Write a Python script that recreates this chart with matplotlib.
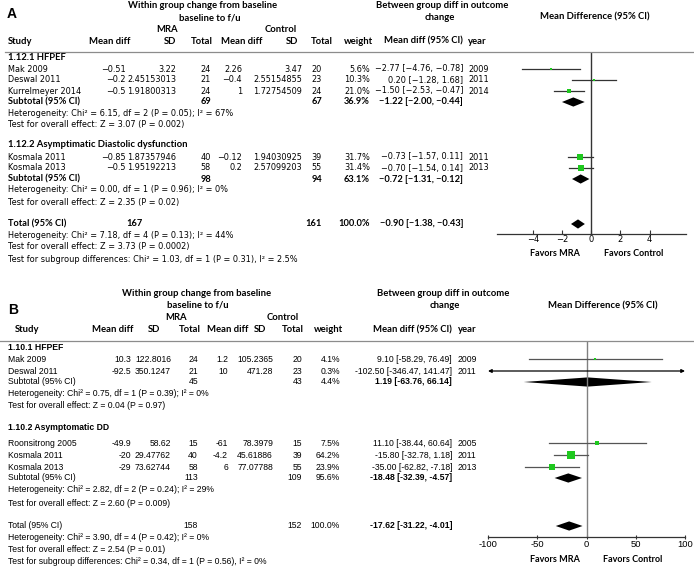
import matplotlib
matplotlib.use("Agg")
import matplotlib.pyplot as plt
from matplotlib.patches import Polygon

W, H = 694, 568

# ---------------- panel A data ----------------
a_studies = ["Mak 2009", "Deswal 2011", "Kurrelmeyer 2014", "Kosmala 2011", "Kosmala 2013"]
a_mra_md = [-0.51, -0.2, -0.5, -0.85, -0.5]
a_mra_sd = [3.22, 2.45153013, 1.91800313, 1.87357946, 1.95192213]
a_mra_n = [24, 21, 24, 40, 58]
a_ctl_md = [2.26, -0.4, 1, -0.12, 0.2]
a_ctl_sd = [3.47, 2.55154855, 1.72754509, 1.94030925, 2.57099203]
a_ctl_n = [20, 23, 24, 39, 55]
a_weight = [5.6, 10.3, 21.0, 31.7, 31.4]
a_est = [-2.77, 0.20, -1.50, -0.73, -0.70]
a_lo = [-4.76, -1.28, -2.53, -1.57, -1.54]
a_hi = [-0.78, 1.68, -0.47, 0.11, 0.14]
a_year = [2009, 2011, 2014, 2011, 2013]
a_groups = ["1.12.1 HFPEF", "1.12.2 Asymptimatic Diastolic dysfunction"]
a_sub_n = [(69, 67), (98, 94)]
a_sub_w = [36.9, 63.1]
a_sub_est = [-1.22, -0.72]
a_sub_lo = [-2.00, -1.31]
a_sub_hi = [-0.44, -0.12]
a_tot_n = (167, 161)
a_tot = (-0.90, -1.38, -0.43)
a_het = [["Heterogeneity: Chi² = 6.15, df = 2 (P = 0.05); I² = 67%",
          "Test for overall effect: Z = 3.07 (P = 0.002)"],
         ["Heterogeneity: Chi² = 0.00, df = 1 (P = 0.96); I² = 0%",
          "Test for overall effect: Z = 2.35 (P = 0.02)"]]
a_tot_txt = ["Heterogeneity: Chi² = 7.18, df = 4 (P = 0.13); I² = 44%",
             "Test for overall effect: Z = 3.73 (P = 0.0002)",
             "Test for subgroup differences: Chi² = 1.03, df = 1 (P = 0.31), I² = 2.5%"]
a_ticks = [-4, -2, 0, 2, 4]

# ---------------- panel B data ----------------
b_studies = ["Mak 2009", "Deswal 2011", "Roonsitrong 2005", "Kosmala 2011", "Kosmala 2013"]
b_mra_md = [10.3, -92.5, -49.9, -20, -29]
b_mra_sd = [122.8016, 350.1247, 58.62, 29.47762, 73.62744]
b_mra_n = [24, 21, 15, 40, 58]
b_ctl_md = [1.2, 10, -61, -4.2, 6]
b_ctl_sd = [105.2365, 471.28, 78.3979, 45.61886, 77.07788]
b_ctl_n = [20, 23, 15, 39, 55]
b_weight = [4.1, 0.3, 7.5, 64.2, 23.9]
b_est = [9.10, -102.50, 11.10, -15.80, -35.00]
b_lo = [-58.29, -346.47, -38.44, -32.78, -62.82]
b_hi = [76.49, 141.47, 60.64, 1.18, -7.18]
b_year = [2009, 2011, 2005, 2011, 2013]
b_groups = ["1.10.1 HFPEF", "1.10.2 Asymptomatic DD"]
b_sub_n = [(45, 43), (113, 109)]
b_sub_w = [4.4, 95.6]
b_sub_est = [1.19, -18.48]
b_sub_lo = [-63.76, -32.39]
b_sub_hi = [66.14, -4.57]
b_tot_n = (158, 152)
b_tot = (-17.62, -31.22, -4.01)
b_het = [["Heterogeneity: Chi² = 0.75, df = 1 (P = 0.39); I² = 0%",
          "Test for overall effect: Z = 0.04 (P = 0.97)"],
         ["Heterogeneity: Chi² = 2.82, df = 2 (P = 0.24); I² = 29%",
          "Test for overall effect: Z = 2.60 (P = 0.009)"]]
b_tot_txt = ["Heterogeneity: Chi² = 3.90, df = 4 (P = 0.42); I² = 0%",
             "Test for overall effect: Z = 2.54 (P = 0.01)",
             "Test for subgroup differences: Chi² = 0.34, df = 1 (P = 0.56), I² = 0%"]
b_ticks = [-100, -50, 0, 50, 100]

GREEN = "#1ec81e"
HEAD = ["Lato"]

fig = plt.figure(figsize=(W / 100, H / 100), dpi=100)


def t(x, y, s, ha="left", **kw):
    fig.text(x / W, 1 - y / H, s, ha=ha, va="center", **kw)


def hline(y, x0=0, x1=W, color="#8c8c8c"):
    fig.add_artist(plt.Line2D([x0 / W, x1 / W], [1 - y / H, 1 - y / H],
                              color=color, lw=0.9, transform=fig.transFigure))


def fmt(v, minus):
    return str(v).replace("-", minus)


def panel(lay, d):
    hf = dict(family=HEAD, fontweight="bold", fontsize=lay["hs"])
    bf = dict(family=lay["font"], fontsize=lay["fs"])
    bold = dict(family=lay["bfont"], fontsize=lay["bfs"], fontweight="bold")
    y0 = lay["y0"]
    m = lay["minus"]
    t(lay["lab"][0], lay["lab"][1], lay["label"], family=["Liberation Sans"],
      fontweight="bold", fontsize=10)
    for s, x, dy in lay["titles"]:
        t(x, y0 + dy, s, ha="center", **hf)
    for s, x, ha in lay["heads"]:
        t(x, lay["yh"], s, ha=ha, **hf)
    t(lay["mra_x"], lay["yg"], "MRA", ha="center", **hf)
    t(lay["ctl_x"], lay["yg"], "Control", ha="center", **hf)
    hline(lay["yline"], lay["line_x0"])

    cols = lay["cols"]
    ax = fig.add_axes([lay["ax_x"][0] / W, 1 - lay["ax_y"][1] / H,
                       (lay["ax_x"][1] - lay["ax_x"][0]) / W,
                       (lay["ax_y"][1] - lay["ax_y"][0]) / H])
    ax.set_xlim(lay["xlim"])
    ax.set_ylim(lay["ax_y"][1], lay["ax_y"][0])
    ax.patch.set_alpha(0)
    for sp in ["top", "left", "right"]:
        ax.spines[sp].set_visible(False)
    ax.spines["bottom"].set_color(lay["axcol"])
    ax.spines["bottom"].set_linewidth(0.9)
    ax.set_yticks([])
    ax.set_xticks(d["ticks"])
    ax.set_xticklabels([fmt(v, m) for v in d["ticks"]], family=lay["font"],
                       fontsize=lay["tfs"])
    ax.tick_params(axis="x", direction=lay["tdir"], length=3, width=0.8,
                   color=lay["axcol"], pad=1)
    ax.axvline(0, color=lay["zcol"], lw=1)
    amin, amax = lay["xlim"]

    def diamond(y, e, lo, hi):
        h = 4.6
        ax.add_patch(Polygon([(lo, y), (e, y - h), (hi, y), (e, y + h)],
                             closed=True, color="black", lw=0))

    k = 0
    for g in range(2):
        rows = lay["rows"][g]
        t(8, rows["grp"], d["groups"][g], family=HEAD if lay["grp_head"] else lay["font"],
          fontweight="bold", fontsize=lay["hs"] if lay["grp_head"] else lay["fs"])
        for j, y in enumerate(rows["study"]):
            i = k + j
            t(8, y, d["studies"][i], **bf)
            vals = [d["mra_md"][i], d["mra_sd"][i], d["mra_n"][i],
                    d["ctl_md"][i], d["ctl_sd"][i], d["ctl_n"][i]]
            for v, x in zip(vals, cols[:6]):
                t(x, y, fmt(v, m), ha="right", **bf)
            t(cols[6], y, "%.1f%%" % d["weight"][i], ha="right", **bf)
            ci = "%.2f [%.2f, %.2f]" % (d["est"][i], d["lo"][i], d["hi"][i])
            t(cols[7], y, ci.replace("-", m), ha="right", **bf)
            t(cols[8], y, str(d["year"][i]), **bf)
            lo, hi = d["lo"][i], d["hi"][i]
            if lo < amin or hi > amax:
                ax.annotate("", xy=(max(lo, amin), y), xytext=(min(hi, amax), y),
                            arrowprops=dict(arrowstyle="<|-|>", color="black",
                                            lw=0.9, mutation_scale=5,
                                            shrinkA=0, shrinkB=0))
            else:
                ax.plot([lo, hi], [y, y], color=lay["cicol"], lw=0.9)
            side = lay["sq"] * d["weight"][i] ** 0.5
            ax.plot(d["est"][i], y, "s", color=GREEN, ms=side * 0.72, mew=0)
        k += len(rows["study"])
        ys = rows["sub"]
        sf = bold if lay["sub_bold"] else bf
        t(8, ys, "Subtotal (95% CI)", **sf)
        t(cols[2], ys, str(d["sub_n"][g][0]), ha="right", **sf)
        t(cols[5], ys, str(d["sub_n"][g][1]), ha="right", **sf)
        t(cols[6], ys, "%.1f%%" % d["sub_w"][g], ha="right", **sf)
        ci = "%.2f [%.2f, %.2f]" % (d["sub_est"][g], d["sub_lo"][g], d["sub_hi"][g])
        t(cols[7], ys, ci.replace("-", m), ha="right", **bold)
        diamond(ys, d["sub_est"][g], d["sub_lo"][g], d["sub_hi"][g])
        for s, y in zip(d["het"][g], rows["het"]):
            t(8, y, s, **bf)

    yt = lay["tot"]
    tf = bold if lay["sub_bold"] else bf
    t(8, yt, "Total (95% CI)", **tf)
    t(lay["tot_n_x"], yt, str(d["tot_n"][0]), ha="right", **tf)
    t(cols[5], yt, str(d["tot_n"][1]), ha="right", **tf)
    t(cols[6], yt, "100.0%", ha="right", **tf)
    e, lo, hi = d["tot"]
    ci = "%.2f [%.2f, %.2f]" % (e, lo, hi)
    t(cols[7], yt, ci.replace("-", m), ha="right", **bold)
    diamond(yt, e, lo, hi)
    for s, y in zip(d["tot_txt"], lay["tot_het"]):
        t(8, y, s, **bf)
    ff = dict(family=HEAD, fontweight="bold", fontsize=lay["fav_fs"])
    t(lay["fav"][0], lay["fav"][2], "Favors MRA", ha="center", **ff)
    t(lay["fav"][1], lay["fav"][2], "Favors Control", ha="center", **ff)


data_a = dict(studies=a_studies, mra_md=a_mra_md, mra_sd=a_mra_sd, mra_n=a_mra_n,
              ctl_md=a_ctl_md, ctl_sd=a_ctl_sd, ctl_n=a_ctl_n, weight=a_weight,
              est=a_est, lo=a_lo, hi=a_hi, year=a_year, groups=a_groups,
              sub_n=a_sub_n, sub_w=a_sub_w, sub_est=a_sub_est, sub_lo=a_sub_lo,
              sub_hi=a_sub_hi, tot_n=a_tot_n, tot=a_tot, het=a_het,
              tot_txt=a_tot_txt, ticks=a_ticks)
data_b = dict(studies=b_studies, mra_md=b_mra_md, mra_sd=b_mra_sd, mra_n=b_mra_n,
              ctl_md=b_ctl_md, ctl_sd=b_ctl_sd, ctl_n=b_ctl_n, weight=b_weight,
              est=b_est, lo=b_lo, hi=b_hi, year=b_year, groups=b_groups,
              sub_n=b_sub_n, sub_w=b_sub_w, sub_est=b_sub_est, sub_lo=b_sub_lo,
              sub_hi=b_sub_hi, tot_n=b_tot_n, tot=b_tot, het=b_het,
              tot_txt=b_tot_txt, ticks=b_ticks)

lay_a = dict(
    label="A", lab=(7, 14), y0=0, font=["DejaVu Sans"], fs=5.85, hs=6.8, tfs=6,
    bfont=["Lato"], bfs=6.7, minus="\u2212",
    titles=[("Within group change from baseline", 203, 6), ("baseline to f/u", 210, 18),
            ("Between group diff in outcome", 442, 6), ("change", 440, 18),
            ("Mean Difference (95% CI)", 595, 17)],
    heads=[("Study", 8, "left"), ("Mean diff", 110, "center"), ("SD", 176, "right"),
           ("Total", 202, "center"), ("Mean diff", 242, "center"), ("SD", 298, "right"),
           ("Total", 322, "center"), ("weight", 358, "center"),
           ("Mean diff (95% CI)", 423, "center"), ("year", 477, "center")],
    yh=41, yg=29, mra_x=167, ctl_x=281, yline=52, line_x0=5,
    cols=[126, 176, 211, 242, 302, 322, 370, 463, 468],
    ax_x=(497, 686), ax_y=(52, 234), xlim=(-6.45, 6.5),
    axcol="#333333", zcol="#333333", cicol="#333333", tdir="in", sq=0.9,
    rows=[dict(grp=58, study=[69, 80, 91], sub=102, het=[113, 125]),
          dict(grp=145, study=[157, 168], sub=179, het=[190, 202])],
    grp_head=True, sub_bold=True, tot=224, tot_n_x=143, tot_het=[236, 247, 259],
    fav=(555, 634, 254), fav_fs=6.5,
)
lay_b = dict(
    label="B", lab=(8, 310), y0=288, font=["Liberation Sans"], fs=6.2, hs=6.8, tfs=6.8,
    bfont=["Liberation Sans"], bfs=6.2, minus="-",
    titles=[("Within group change from baseline", 197, 6), ("baseline to f/u", 198, 17),
            ("Between group diff in outcome", 443, 6), ("change", 445, 17),
            ("Mean Difference (95% CI)", 603, 18)],
    heads=[("Study", 27, "center"), ("Mean diff", 113, "center"), ("SD", 154, "center"),
           ("Total", 190, "center"), ("Mean diff", 228, "center"), ("SD", 260, "center"),
           ("Total", 293, "center"), ("weight", 328, "center"),
           ("Mean diff (95% CI)", 412, "center"), ("year", 467, "center")],
    yh=330, yg=317, mra_x=176, ctl_x=283, yline=341, line_x0=0,
    cols=[131, 171, 198, 228, 273, 302, 340, 452, 458],
    ax_x=(488, 685), ax_y=(341, 537), xlim=(-100, 100),
    axcol="#333333", zcol="#808080", cicol="#555555", tdir="inout", sq=1.1,
    rows=[dict(grp=348, study=[359, 371], sub=382, het=[394, 406]),
          dict(grp=428, study=[443, 455, 467], sub=478, het=[490, 503])],
    grp_head=False, sub_bold=False, tot=526, tot_n_x=198, tot_het=[538, 550, 562],
    fav=(555, 633, 560), fav_fs=6.5,
)

panel(lay_a, data_a)
panel(lay_b, data_b)

plt.savefig("out.png", dpi=100)
